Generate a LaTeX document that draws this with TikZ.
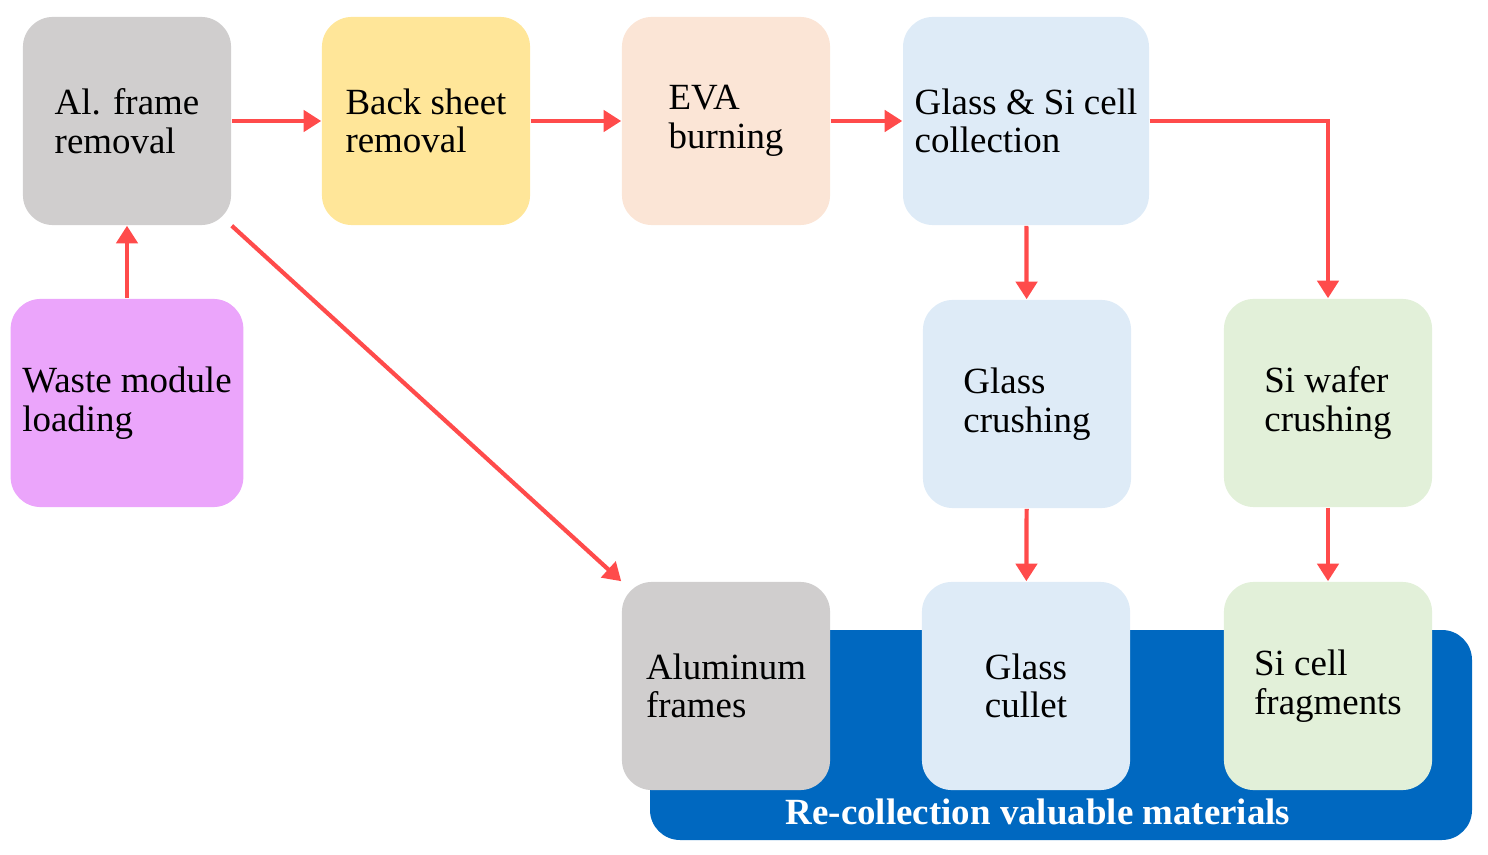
\documentclass[tikz,border=0pt]{standalone}
\usepackage{fontspec}
\setmainfont{Liberation Serif}
\usetikzlibrary{arrows.meta}
\definecolor{grayA}{HTML}{D0CECE}
\definecolor{yellowA}{HTML}{FFE699}
\definecolor{peachA}{HTML}{FBE5D6}
\definecolor{blueA}{HTML}{DEEBF7}
\definecolor{violetA}{HTML}{EBA5FB}
\definecolor{greenA}{HTML}{E2F0D9}
\definecolor{bandA}{HTML}{0068C0}
\definecolor{redA}{HTML}{FF4B4B}
\tikzset{
  stage/.style={rounded corners=0.3cm,minimum width=2.08cm,minimum height=2.08cm,align=left,font=\fontsize{10.5}{11}\selectfont},
  flow/.style={draw=redA,line width=1.2pt,-{Triangle[length=5pt,width=6pt]}}
}
\begin{document}
\begin{tikzpicture}[x=0.01cm,y=-0.01cm]
\useasboundingbox (0,0) rectangle (1488,855);
\fill[bandA,rounded corners=0.3cm](650,630) rectangle (1472,840);
\node[text=white,font=\bfseries\fontsize{10.5}{11}\selectfont] (band) at (1038,812){Re-collection valuable materials};
\node[stage,fill=grayA] (al) at (127,121){Al. frame\\removal};
\node[stage,fill=yellowA] (back) at (426,121){Back sheet\\removal};
\node[stage,fill=peachA] (eva) at (726,121){EVA\\burning};
\node[stage,fill=blueA] (glsi) at (1026,121){Glass \& Si cell\\collection};
\node[stage,fill=violetA] (waste) at (127,403){Waste module\\loading};
\node[stage,fill=blueA] (glcr) at (1027,404){Glass\\crushing};
\node[stage,fill=greenA] (sicr) at (1328,403){Si wafer\\crushing};
\node[stage,fill=grayA] (alfr) at (726,686){Aluminum\\frames};
\node[stage,fill=blueA] (cull) at (1026,686){Glass\\cullet};
\node[stage,fill=greenA] (frag) at (1328,686){Si cell\\fragments};
\draw[flow](al)--(back);
\draw[flow](back)--(eva);
\draw[flow](eva)--(glsi);
\draw[flow](waste)--(al);
\draw[flow](al.south east)--(alfr.north west);
\draw[flow](glsi)-|(sicr);
\draw[flow](glsi)--(glcr);
\draw[flow](glcr)--(cull);
\draw[flow](sicr)--(frag);
\end{tikzpicture}
\end{document}
